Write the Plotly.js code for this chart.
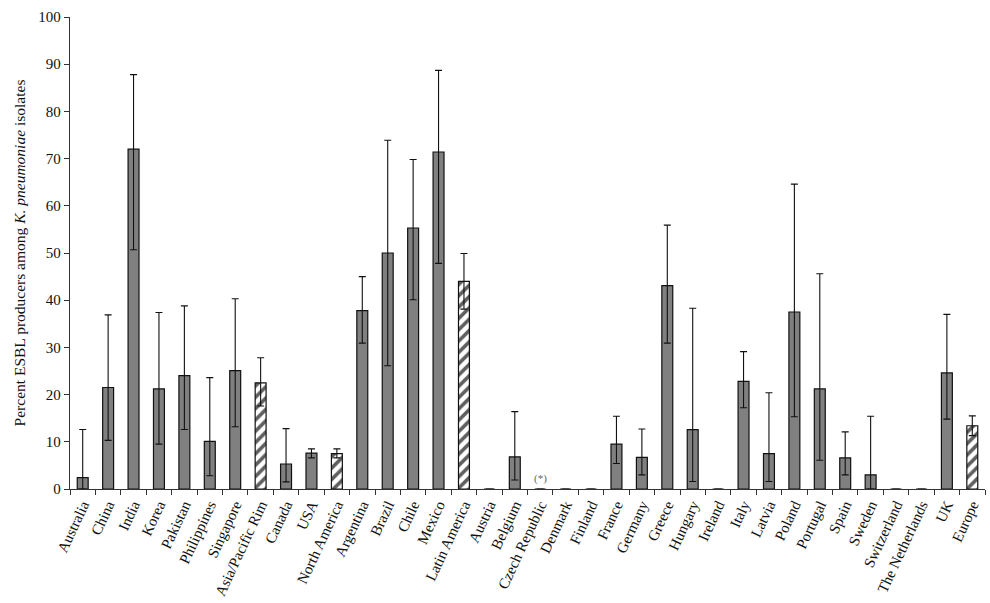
<!DOCTYPE html>
<html>
<head>
<meta charset="utf-8">
<script src="https://cdn.plot.ly/plotly-3.0.1.min.js"></script>
<style>html,body{margin:0;padding:0;background:#fff;}#chart{width:990px;height:603px;}</style>
</head>
<body>
<div id="chart"></div>
<script>
const categories = ["Australia","China","India","Korea","Pakistan","Philippines","Singapore","Asia/Pacific Rim",
  "Canada","USA","North America","Argentina","Brazil","Chile","Mexico","Latin America",
  "Austria","Belgium","Czech Republic","Denmark","Finland","France","Germany","Greece","Hungary","Ireland",
  "Italy","Latvia","Poland","Portugal","Spain","Sweden","Switzerland","The Netherlands","UK","Europe"];
const values = [2.4,21.5,72.0,21.2,24.0,10.1,25.1,22.5,
  5.3,7.6,7.5,37.8,50.0,55.3,71.4,44.0,
  0,6.8,0,0,0,9.5,6.7,43.1,12.6,0,
  22.8,7.5,37.5,21.2,6.6,3.0,0,0,24.6,13.4];
const upper = [12.6,36.9,87.8,37.4,38.8,23.6,40.3,27.8,
  12.8,8.5,8.5,45.0,73.9,69.8,88.7,49.9,
  null,16.4,null,null,null,15.4,12.7,55.9,38.3,null,
  29.1,20.4,64.6,45.6,12.1,15.4,null,null,37.0,15.5];
const lower = [0,10.3,50.7,9.5,12.6,2.8,13.2,17.6,
  1.5,6.6,6.6,30.9,26.1,40.1,47.8,38.1,
  null,1.9,null,null,null,5.4,3.0,30.9,1.6,null,
  17.2,1.6,15.3,6.1,3.0,0,null,null,14.8,11.3];
const isRegion = [0,0,0,0,0,0,0,1, 0,0,1,0,0,0,0,1, 0,0,0,0,0,0,0,0,0,0, 0,0,0,0,0,0,0,0,0,1];

const errPlus = values.map((v,i)=> upper[i]===null ? null : +(upper[i]-v).toFixed(2));
const errMinus = values.map((v,i)=> lower[i]===null ? null : +(v-lower[i]).toFixed(2));

const trace = {
  type: 'bar',
  x: categories,
  y: values,
  marker: {
    color: isRegion.map(r => r ? '#5f5f5f' : '#808080'),
    line: {color: '#111', width: 1.2},
    pattern: {
      shape: isRegion.map(r => r ? '/' : ''),
      bgcolor: '#ffffff',
      size: 8,
      solidity: 0.45
    }
  },
  error_y: {
    type: 'data', symmetric: false,
    array: errPlus, arrayminus: errMinus,
    color: '#111', thickness: 1.1, width: 3.5
  },
  hoverinfo: 'x+y'
};

const layout = {
  width: 990, height: 603,
  margin: {l: 70, r: 5, t: 17, b: 114},
  paper_bgcolor: '#fff', plot_bgcolor: '#fff',
  bargap: 0.57,
  showlegend: false,
  font: {family: '"Liberation Serif", "Times New Roman", serif', size: 15, color: '#111'},
  xaxis: {
    type: 'category',
    tickangle: -65,
    ticks: 'outside', ticklen: 5, tickcolor: '#333',
    tickson: 'boundaries',
    showline: true, linecolor: '#333', linewidth: 1.2,
    showgrid: false, zeroline: false,
    tickfont: {size: 15, family: '"Liberation Serif", serif', color: '#111'},
    automargin: false
  },
  yaxis: {
    range: [0, 100],
    dtick: 10,
    ticks: 'outside', ticklen: 5, tickcolor: '#333',
    showline: true, linecolor: '#333', linewidth: 1.2,
    showgrid: false, zeroline: false,
    tickfont: {size: 15, family: '"Liberation Serif", serif', color: '#111'},
    title: {text: 'Percent ESBL producers among <i>K. pneumoniae</i> isolates', standoff: 8,
            font: {size: 15.5, family: '"Liberation Serif", serif', color: '#111'}},
    automargin: false
  },
  annotations: [{
    x: 'Czech Republic', y: 0, xref: 'x', yref: 'y',
    text: '(*)', showarrow: false, yanchor: 'bottom', yshift: 2,
    font: {size: 11, color: '#666', family: '"Liberation Serif", serif'}
  }]
};

Plotly.newPlot('chart', [trace], layout, {displayModeBar: false, staticPlot: true});
</script>
</body>
</html>
